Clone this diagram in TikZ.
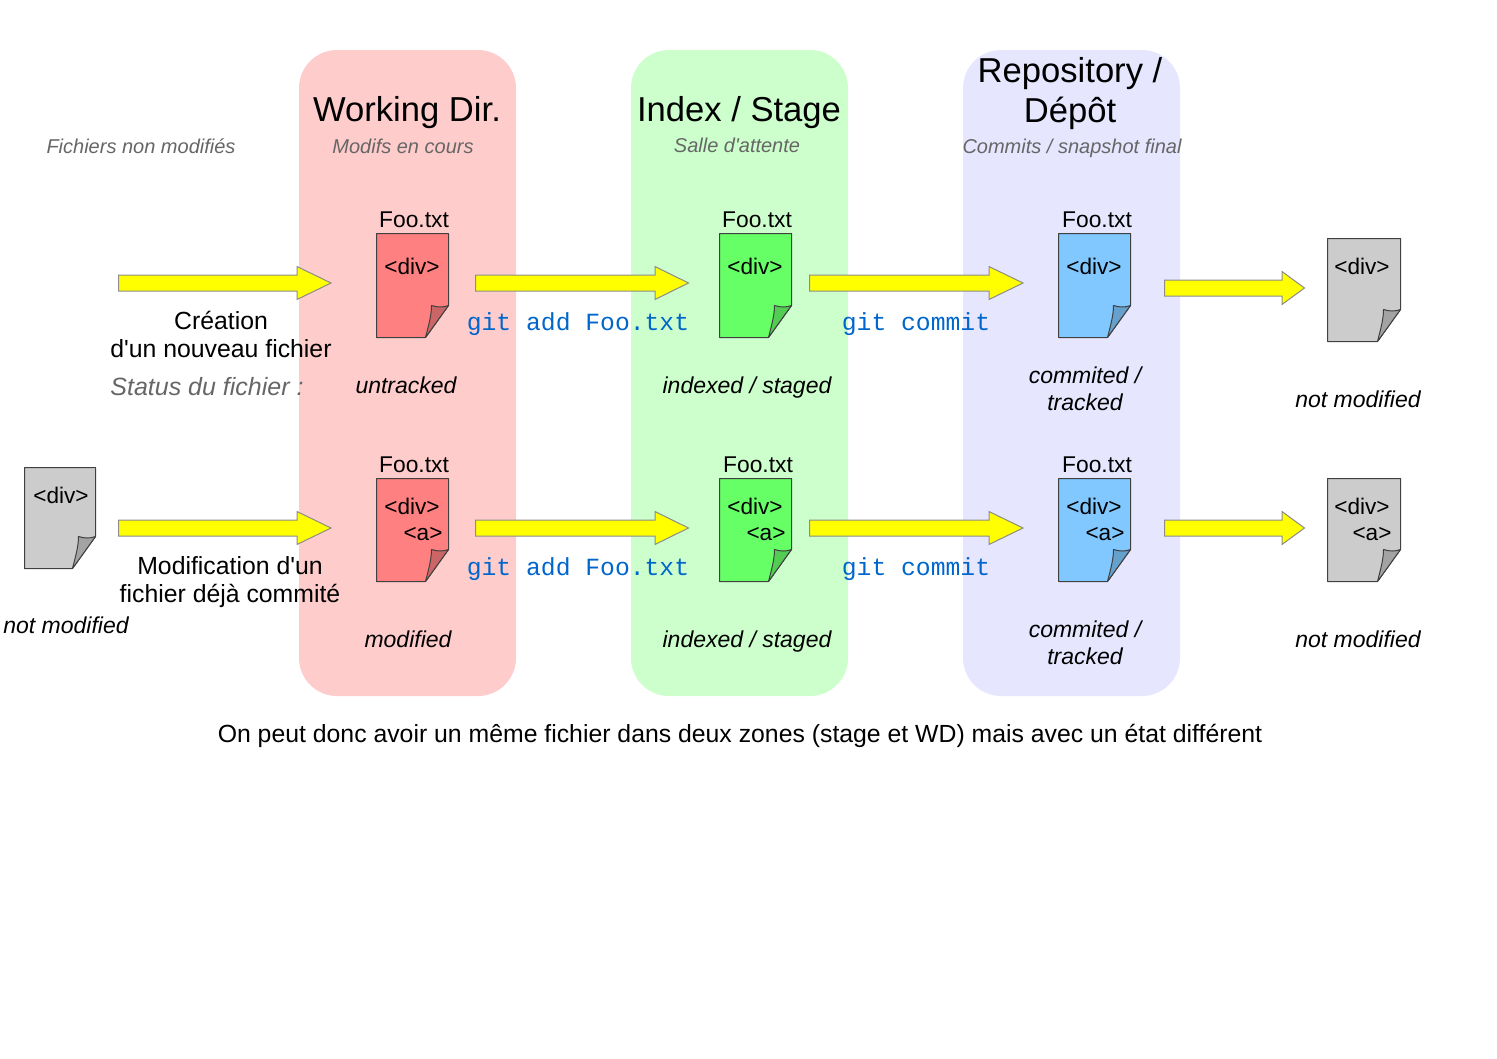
\documentclass[tikz,border=0pt]{standalone}
\usepackage{fontspec}
\setmainfont{Liberation Sans}
\setmonofont{Liberation Mono}
\definecolor{zonered}{HTML}{FFCCCC}
\definecolor{zonegreen}{HTML}{CCFFCC}
\definecolor{zoneblue}{HTML}{E6E6FF}
\definecolor{docred}{HTML}{FF8080}
\definecolor{docredf}{HTML}{CC6666}
\definecolor{docgreen}{HTML}{66FF66}
\definecolor{docgreenf}{HTML}{52CC52}
\definecolor{docblue}{HTML}{80C8FF}
\definecolor{docbluef}{HTML}{66A0CC}
\definecolor{docgray}{HTML}{CCCCCC}
\definecolor{docgrayf}{HTML}{A3A3A3}
\definecolor{subgray}{HTML}{666666}
\definecolor{gitblue}{HTML}{0066CC}
\definecolor{arrowyellow}{HTML}{FFFF00}
\definecolor{arrowline}{HTML}{8C8C8C}
\definecolor{docedge}{HTML}{404040}
\newcommand{\ap}{\textquotesingle}
\tikzset{
  zone/.style={rectangle,rounded corners=38pt,draw=none,minimum width=217pt,minimum height=646pt,inner sep=0pt},
  title/.style={align=center,inner sep=0pt,font=\fontsize{34.6}{40}\selectfont},
  subtitle/.style={inner sep=0pt,text=subgray,font=\fontsize{20}{24}\selectfont\itshape},
  fname/.style={inner sep=0pt,font=\fontsize{22.8}{28}\selectfont},
  tag/.style={inner sep=0pt,font=\fontsize{22.6}{28}\selectfont},
  state/.style={inner sep=0pt,align=center,font=\fontsize{23}{26.5}\selectfont\itshape},
  label/.style={inner sep=0pt,align=center,font=\fontsize{24.8}{28}\selectfont},
  gitcmd/.style={inner sep=0pt,text=gitblue,font=\fontsize{24.7}{28}\ttfamily\selectfont},
  docline/.style={draw=docedge,line width=1pt,line join=round},
  blockarrow/.style={draw=arrowline,fill=arrowyellow,line width=1pt,line join=miter}
}
% #1 name, #2 x, #3 y, #4 fill, #5 fold fill, #6 width, #7 height
\newcommand{\docsheet}[7]{%
  \begin{scope}[shift={(#2,#3)}]
    \coordinate (#1) at (#6/2,#7/2);
    \path[docline,fill=#4] (0,0) -- (#6,0) -- (#6,#7-32) -- (#6-23,#7) -- (0,#7) -- cycle;
    \path[docline,fill=#5] (#6,#7-32) .. controls (#6-5,#7-30) and (#6-11,#7-30) .. (#6-17,#7-32) .. controls (#6-17,#7-22) and (#6-20,#7-12) .. (#6-23,#7) -- cycle;
  \end{scope}}
% #1 x start, #2 x neck, #3 x tip, #4 y centre
\newcommand{\yarrow}[4]{%
  \path[blockarrow] (#1,#4-8) -- (#2,#4-8) -- (#2,#4-16.5) -- (#3,#4) -- (#2,#4+16.5) -- (#2,#4+8) -- (#1,#4+8) -- cycle;}
\begin{document}
\begin{tikzpicture}[x=1pt,y=-1pt]
\useasboundingbox (0,0) rectangle (1497,1058);
\node[zone,fill=zonered] (zwd) at (407.5,373) {};
\node[zone,fill=zonegreen] (zindex) at (739.5,373) {};
\node[zone,fill=zoneblue] (zrepo) at (1071.5,373) {};

\node[title] (twd) at (407,113) {Working Dir.};
\node[title] (tindex) at (739,113) {Index / Stage};
\node[title] (trepo) at (1070,94) {Repository /\\Dépôt};
\node[subtitle] (s0) at (141,146) {Fichiers non modifiés};
\node[subtitle] (s1) at (403,146) {Modifs en cours};
\node[subtitle] (s2) at (737,145) {Salle d\ap attente};
\node[subtitle] (s3) at (1072,148) {Commits / snapshot final};

\yarrow{118.5}{297}{331}{283}
\yarrow{475.5}{655}{688.5}{283}
\yarrow{809.5}{989}{1023}{283}
\yarrow{1164.5}{1282}{1304.5}{288}
\yarrow{118.5}{297}{331}{528}
\yarrow{475.5}{655}{688.5}{528}
\yarrow{809.5}{989}{1023}{528}
\yarrow{1164.5}{1282}{1304.5}{528}

\docsheet{d1}{376.5}{233.5}{docred}{docredf}{72}{104}
\docsheet{d2}{719.5}{233.5}{docgreen}{docgreenf}{72}{104}
\docsheet{d3}{1058.5}{233.5}{docblue}{docbluef}{72}{104}
\docsheet{d4}{1327.5}{238.5}{docgray}{docgrayf}{73}{103}
\docsheet{d5}{376.5}{478.5}{docred}{docredf}{72}{103}
\docsheet{d6}{719.5}{478.5}{docgreen}{docgreenf}{72}{103}
\docsheet{d7}{1058.5}{478.5}{docblue}{docbluef}{72}{103}
\docsheet{d8}{1327.5}{478.5}{docgray}{docgrayf}{73}{103}
\docsheet{d0}{24.5}{467.5}{docgray}{docgrayf}{71}{101}

\node[fname] (f1) at (414,220) {Foo.txt};
\node[fname] (f2) at (757,220) {Foo.txt};
\node[fname] (f3) at (1097,220) {Foo.txt};
\node[fname] (f5) at (414,465) {Foo.txt};
\node[fname] (f6) at (758,465) {Foo.txt};
\node[fname] (f7) at (1097,465) {Foo.txt};

\node[tag] (t1) at (412,266) {<div>};
\node[tag] (t2) at (755,266) {<div>};
\node[tag] (t3) at (1094,266) {<div>};
\node[tag] (t4) at (1362,266) {<div>};
\node[tag] (t0) at (61,495) {<div>};
\node[tag] (t5) at (412,506) {<div>};
\node[tag] (a5) at (423,534) {<a>};
\node[tag] (t6) at (755,506) {<div>};
\node[tag] (a6) at (766,534) {<a>};
\node[tag] (t7) at (1094,506) {<div>};
\node[tag] (a7) at (1105,534) {<a>};
\node[tag] (t8) at (1362,506) {<div>};
\node[tag] (a8) at (1372,534) {<a>};

\node[label] (l1) at (221,334) {Création\\d\ap un nouveau fichier};
\node[label] (l2) at (230,582) {Modification d\ap un\\fichier déjà commité};
\node[inner sep=0pt,text=subgray,font=\fontsize{25}{28}\selectfont\itshape] (l3) at (207,386.5) {Status du fichier :};

\node[gitcmd] (g1) at (578,324) {git add Foo.txt};
\node[gitcmd] (g2) at (916,324) {git commit};
\node[gitcmd] (g3) at (578,569) {git add Foo.txt};
\node[gitcmd] (g4) at (916,569) {git commit};

\node[state] (e1) at (406,385) {untracked};
\node[state] (e2) at (747,388) {indexed / staged};
\node[state] (e3) at (1085,389) {commited /\\tracked};
\node[state] (e4) at (1358,399) {not modified};
\node[state] (e0) at (66,625) {not modified};
\node[state] (e5) at (408,639) {modified};
\node[state] (e6) at (747,642) {indexed / staged};
\node[state] (e7) at (1085,643) {commited /\\tracked};
\node[state] (e8) at (1358,639) {not modified};

\node[inner sep=0pt,font=\fontsize{24.8}{28}\selectfont] (foot) at (740,736) {On peut donc avoir un même fichier dans deux zones (stage et WD) mais avec un état différent};
\end{tikzpicture}
\end{document}
